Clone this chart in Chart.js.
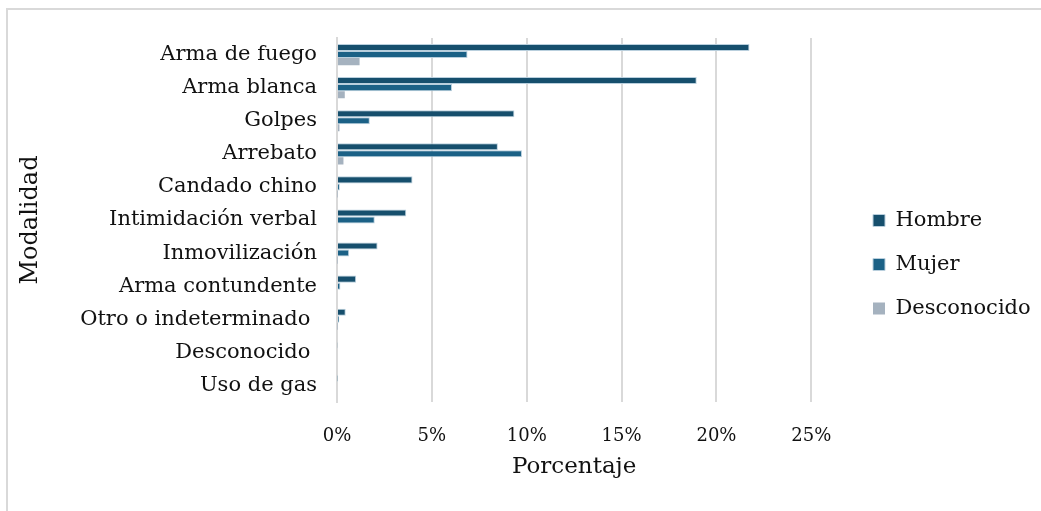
<!DOCTYPE html>
<html>
<head>
<meta charset="utf-8">
<script src="https://cdn.jsdelivr.net/npm/chart.js@4"></script>
<style>
  html, body { margin: 0; padding: 0; background: #fff; }
  .frame {
    position: absolute; left: 6px; top: 8px; width: 1035px; height: 503px;
    border-top: 2px solid #d9d9d9; border-left: 2px solid #d9d9d9; box-sizing: border-box;
  }
  .wrap { position: absolute; left: 0; top: 0; width: 1041px; height: 511px; }
</style>
</head>
<body>
<div class="frame"></div>
<div class="wrap"><canvas id="chart"></canvas></div>
<script>
// categories and values (% of cases)
const modalidades = ['Arma de fuego', 'Arma blanca', 'Golpes', 'Arrebato', 'Candado chino',
  'Intimidación verbal', 'Inmovilización', 'Arma contundente', 'Otro o indeterminado ', 'Desconocido ', 'Uso de gas']
const hombre      = [21.74, 18.96, 9.35, 8.48, 3.98, 3.65, 2.14, 1.01, 0.46, 0.03, 0.02]
const mujer       = [6.88, 6.06, 1.73, 9.75, 0.15, 1.99, 0.64, 0.18, 0.12, 0.0, 0.0]
const desconocido = [1.19, 0.41, 0.13, 0.34, 0.02, 0.06, 0.02, 0.0, 0.02, 0.0, 0.0]
const xTicks = [0, 5, 10, 15, 20, 25]

const C = {
  hombre: '#164f6d',
  mujer:  '#1b6186',
  desc:   '#a5b2bf',
  edge:   '#b9cfdd',
  text:   '#111111',
  grid:   '#d9d9d9',
}
const FONT = 'DejaVu Serif'

// push the legend away from the plot, like the original layout
const legendShift = {
  id: 'legendShift',
  afterLayout(chart) {
    const lg = chart.legend
    const dx = 850 - lg.left, dy = -10
    lg.left += dx; lg.right += dx
    lg.top += dy; lg.bottom += dy
  }
}

new Chart(document.getElementById('chart'), {
  type: 'bar',
  data: {
    labels: modalidades,
    datasets: [
      { label: 'Hombre', data: hombre, backgroundColor: C.hombre, borderColor: C.edge, borderWidth: 1 },
      { label: 'Mujer', data: mujer, backgroundColor: C.mujer, borderColor: C.edge, borderWidth: 1 },
      { label: 'Desconocido', data: desconocido, backgroundColor: C.desc, borderColor: C.edge, borderWidth: 0 },
    ]
  },
  options: {
    indexAxis: 'y',
    responsive: true, maintainAspectRatio: false, animation: false,
    categoryPercentage: 0.64, barPercentage: 1,
    layout: { padding: { left: 4, right: 39, top: 38, bottom: 0 } },
    plugins: {
      tooltip: { enabled: false },
      legend: {
        position: 'right',
        labels: {
          color: C.text, font: { family: FONT, size: 21 },
          boxWidth: 12, boxHeight: 12, padding: 23,
        }
      }
    },
    scales: {
      x: {
        min: 0, max: 25,
        afterBuildTicks: axis => { axis.ticks = xTicks.map(v => ({ value: v })) },
        afterFit: axis => { axis.height = 109 },
        grid: { color: C.grid, lineWidth: 2, drawTicks: false },
        border: { display: false },
        ticks: { color: C.text, font: { family: FONT, size: 18 }, padding: 24, callback: v => v + '%' },
        title: { display: true, text: 'Porcentaje', color: C.text, font: { family: FONT, size: 23 }, padding: { top: 4, bottom: 30 } }
      },
      y: {
        afterFit: axis => { axis.width = 333 },
        grid: { display: false, drawTicks: false },
        border: { display: true, color: C.grid, width: 2 },
        ticks: { color: C.text, font: { family: FONT, size: 21 }, padding: 20, autoSkip: false },
        title: { display: true, text: 'Modalidad', color: C.text, font: { family: FONT, size: 24 }, padding: { top: 12, bottom: 4 } }
      }
    }
  },
  plugins: [legendShift]
})
</script>
</body>
</html>
